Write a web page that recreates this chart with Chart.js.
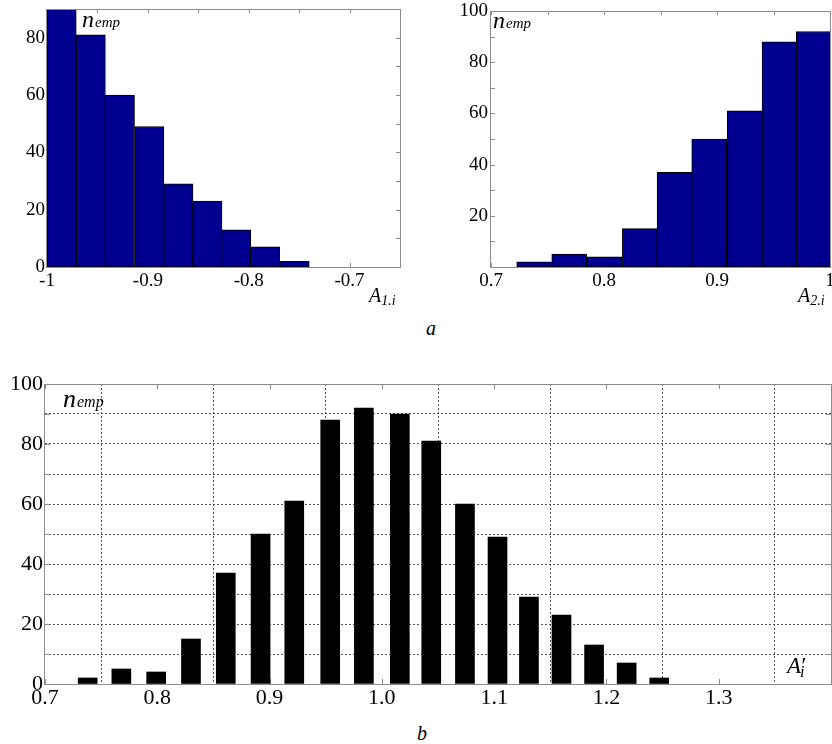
<!DOCTYPE html>
<html>
<head>
<meta charset="utf-8">
<script src="https://cdn.jsdelivr.net/npm/chart.js@4.4.1/dist/chart.umd.min.js"></script>
<style>
  html, body { margin: 0; padding: 0; background: #fff; overflow: hidden; }
  #wrap { position: relative; width: 832px; height: 744px; }
  canvas { position: absolute; }
  .cap { position: absolute; font: italic 20px 'Liberation Serif', serif; line-height: 20px; color: #000; }
</style>
</head>
<body>
<div id="wrap">
  <canvas id="c1" width="416" height="312" style="left:0;top:0"></canvas>
  <canvas id="c2" width="420" height="312" style="left:420px;top:0"></canvas>
  <canvas id="c3" width="840" height="340" style="left:0;top:370px"></canvas>
  <div class="cap" style="left:426px;top:318px">a</div>
  <div class="cap" style="left:417px;top:723px">b</div>
</div>
<script>
// histogram of A1.i (bin centres, counts)
const a1Bins = [-0.9855, -0.9566, -0.9277, -0.8986, -0.8697, -0.8410, -0.8124, -0.7838, -0.7545];
const a1Counts = [90, 81, 60, 49, 29, 23, 13, 7, 2];

// histogram of A2.i
const a2Bins = [0.7382, 0.7692, 0.8005, 0.8317, 0.8624, 0.8931, 0.9244, 0.9553, 0.9856];
const a2Counts = [2, 5, 4, 15, 37, 50, 61, 88, 92];

// combined histogram of A'i
const aBins = [0.738, 0.768, 0.799, 0.830, 0.861, 0.892, 0.922, 0.954, 0.984,
               1.016, 1.044, 1.074, 1.103, 1.131, 1.160, 1.189, 1.218, 1.247];
const aCounts = [2, 5, 4, 15, 37, 50, 61, 88, 92, 90, 81, 60, 49, 29, 23, 13, 7, 2];

const serif = "'Liberation Serif', 'Times New Roman', serif";
const isTenth = v => Math.abs(Math.round(v * 10) - v * 10) < 1e-6;
const toPoints = (xs, ys) => xs.map((x, i) => ({ x, y: ys[i] }));

// matlab-ish box with inward ticks + italic labels
const framePlugin = {
  id: 'frame',
  beforeDatasetsDraw(chart, args, opts) {
    const { ctx, chartArea: a, scales: { x, y } } = chart;
    const len = opts.tick;
    ctx.save();
    ctx.strokeStyle = opts.color;
    ctx.lineWidth = 1;
    ctx.beginPath();
    x.ticks.forEach(t => {
      const px = Math.round(x.getPixelForValue(t.value)) + 0.5;
      ctx.moveTo(px, a.bottom); ctx.lineTo(px, a.bottom - len);
      ctx.moveTo(px, a.top); ctx.lineTo(px, a.top + len);
    });
    y.ticks.forEach(t => {
      const py = Math.round(y.getPixelForValue(t.value)) + 0.5;
      ctx.moveTo(a.left, py); ctx.lineTo(a.left + len, py);
      ctx.moveTo(a.right, py); ctx.lineTo(a.right - len, py);
    });
    ctx.stroke();
    ctx.restore();
  },
  afterDatasetsDraw(chart, args, opts) {
    const { ctx, chartArea: a } = chart;
    ctx.save();
    ctx.strokeStyle = opts.color;
    ctx.lineWidth = 1;
    ctx.strokeRect(Math.round(a.left) - 0.5, Math.round(a.top) + 0.5,
                   Math.round(a.right - a.left) + 1, Math.round(a.bottom - a.top));
    ctx.restore();
  },
  afterDraw(chart, args, opts) {
    const ctx = chart.ctx;
    ctx.save();
    ctx.fillStyle = '#000';
    ctx.textBaseline = 'alphabetic';
    (opts.texts || []).forEach(item => {
      let x = item.x;
      item.parts.forEach(p => {
        ctx.font = 'italic ' + p.size + 'px ' + serif;
        ctx.fillText(p.t, x + (p.dx || 0), item.y + (p.dy || 0));
        x += (p.dx || 0) + ctx.measureText(p.t).width;
      });
    });
    ctx.restore();
  }
};

function xAxis(min, max, step, fontSize, height, pad, fmt) {
  return {
    type: 'linear', min, max, offset: false,
    grid: { display: false, drawTicks: false }, border: { display: false },
    ticks: {
      stepSize: step, autoSkip: false, maxRotation: 0, padding: pad,
      color: '#000', font: { family: serif, size: fontSize, lineHeight: 1 },
      callback: fmt
    },
    afterFit: s => { s.height = height; s.paddingLeft = 0; s.paddingRight = 0; }
  };
}

function yAxis(max, fontSize, width, pad, fmt) {
  return {
    min: 0, max,
    grid: { display: false, drawTicks: false }, border: { display: false },
    ticks: {
      stepSize: 10, autoSkip: false, padding: pad,
      color: '#000', font: { family: serif, size: fontSize, lineHeight: 1 },
      callback: fmt
    },
    afterFit: s => { s.width = width; s.paddingTop = 0; s.paddingBottom = 0; }
  };
}

const nEmp = (x, y, big, small) => ({ x, y, parts: [{ t: 'n', size: big }, { t: 'emp', size: small, dx: 1 }] });

// top left: A1.i
new Chart(document.getElementById('c1'), {
  type: 'bar',
  data: {
    datasets: [{
      data: toPoints(a1Bins, a1Counts),
      backgroundColor: '#000090', borderColor: '#000', borderWidth: 1,
      borderSkipped: false, barThickness: 29.2
    }]
  },
  options: {
    responsive: false, animation: false,
    layout: { padding: { left: 0, top: 9, right: 16, bottom: 0 } },
    plugins: {
      legend: { display: false }, tooltip: { enabled: false },
      frame: {
        color: '#8c8c8c', tick: 4,
        texts: [
          nEmp(82, 27, 24, 15),
          { x: 369, y: 302, parts: [{ t: 'A', size: 20 }, { t: '1.i', size: 14, dy: 3 }] }
        ]
      }
    },
    scales: {
      x: xAxis(-1, -0.65, 0.05, 19, 45, 5, v => isTenth(v) ? String(+v.toFixed(2)) : ''),
      y: yAxis(90, 19, 47, 2, v => v % 20 === 0 ? v : '')
    }
  },
  plugins: [framePlugin]
});

// top right: A2.i
new Chart(document.getElementById('c2'), {
  type: 'bar',
  data: {
    datasets: [{
      data: toPoints(a2Bins, a2Counts),
      backgroundColor: '#000090', borderColor: '#000', borderWidth: 1,
      borderSkipped: false, barThickness: 34.9
    }]
  },
  options: {
    responsive: false, animation: false,
    layout: { padding: { left: 0, top: 11, right: 10, bottom: 0 } },
    plugins: {
      legend: { display: false }, tooltip: { enabled: false },
      frame: {
        color: '#8c8c8c', tick: 4,
        texts: [
          nEmp(73, 28, 24, 15),
          { x: 378, y: 302, parts: [{ t: 'A', size: 20 }, { t: '2.i', size: 14, dy: 3 }] }
        ]
      }
    },
    scales: {
      x: xAxis(0.7, 1.0, 0.05, 19, 45, 5, v => isTenth(v) ? String(+v.toFixed(2)) : ''),
      y: yAxis(100, 19, 71, 3, v => (v % 20 === 0 && v > 0) ? v : '')
    }
  },
  plugins: [framePlugin]
});

// bottom: A'i
new Chart(document.getElementById('c3'), {
  type: 'bar',
  data: {
    datasets: [{
      data: toPoints(aBins, aCounts),
      backgroundColor: '#000', borderWidth: 0, barThickness: 19
    }]
  },
  options: {
    responsive: false, animation: false,
    layout: { padding: { left: 0, top: 14, right: 9, bottom: 0 } },
    plugins: {
      legend: { display: false }, tooltip: { enabled: false },
      frame: {
        color: '#8c8c8c', tick: 5,
        texts: [
          nEmp(63, 37, 26, 16),
          { x: 787, y: 303, parts: [{ t: 'A', size: 23 }, { t: '\u2032', size: 23, dx: -1 }, { t: 'i', size: 16, dy: 4, dx: -5 }] }
        ]
      }
    },
    scales: {
      x: Object.assign(xAxis(0.7, 1.4, 0.1, 22, 26, 3, v => v < 1.35 ? v.toFixed(1) : ''), {
        grid: { display: true, color: '#555', drawTicks: false, lineWidth: 1 },
        border: { display: false, dash: [2, 2] }
      }),
      y: Object.assign(yAxis(100, 22, 45, 2, v => v % 20 === 0 ? v : ''), {
        grid: { display: true, color: '#555', drawTicks: false, lineWidth: 1 },
        border: { display: false, dash: [2, 2] }
      })
    }
  },
  plugins: [framePlugin]
});
</script>
</body>
</html>
